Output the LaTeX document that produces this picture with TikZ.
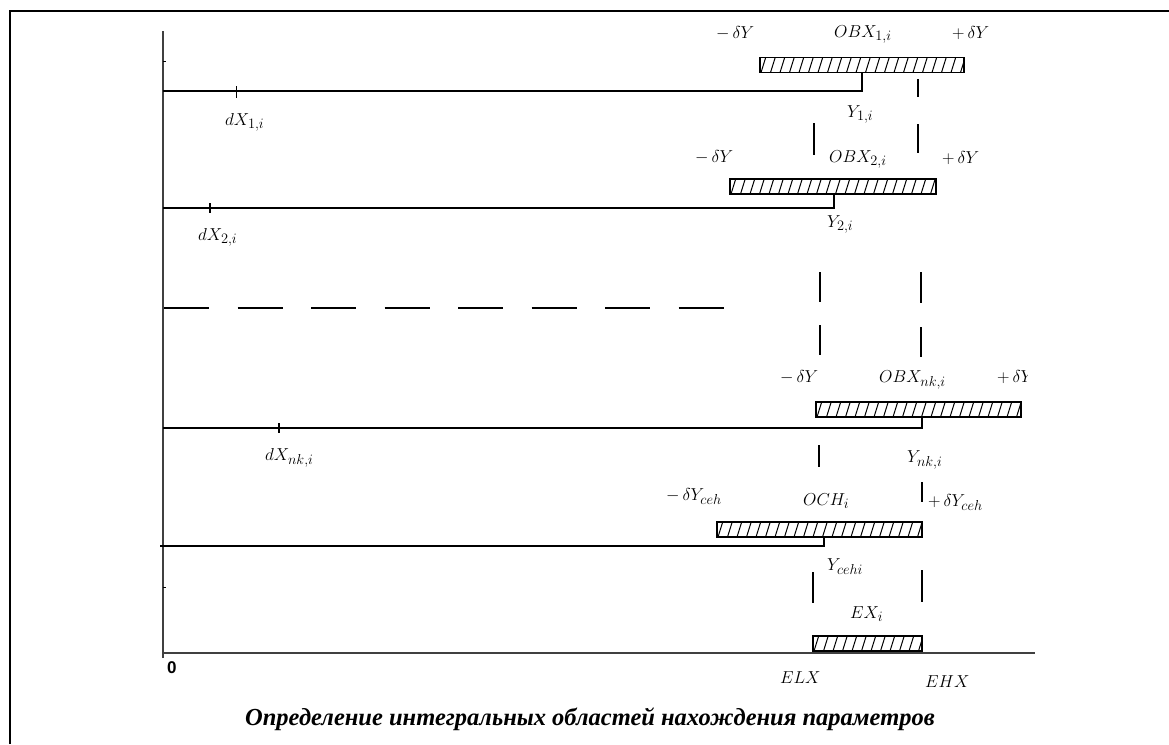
\documentclass[tikz,border=0pt]{standalone}
\usepackage{fontspec}
\newfontfamily\capfont{Liberation Serif}
\newfontfamily\zerofont{Liberation Sans}
\begin{document}
\begin{tikzpicture}[x=1pt,y=-1pt,
  lab/.style={inner sep=0pt, anchor=base west, font=\fontsize{19}{21}\selectfont},
  axisline/.style={draw=black!75, line width=2pt},
  hline/.style={draw=black, line width=1.4pt},
  vdash/.style={draw=black, line width=1.3pt},
  tickm/.style={draw=black, line width=1.2pt},
  hatchbar/.style={draw=black, line width=1.1pt, inner sep=0pt, minimum height=15pt,
    path picture={\foreach \k in {0,...,22}{\draw[line width=1pt] ([xshift=\k*9.5pt+1pt]path picture bounding box.south west) -- ++(5pt,16pt);}}}
]
\useasboundingbox (0,0) rectangle (1169,744);
% frame
\draw[line width=2.5pt] (10,744) -- (10,11) -- (1169,11);
% axes
\coordinate (ax0) at (163,658);
\coordinate (axT) at (163,31);
\coordinate (axR) at (1035,653);
\draw[axisline] (ax0) -- (axT);
\draw[axisline] (163,653) -- (axR);
\draw[line width=1pt] (163,61) -- (166,61);
\draw[line width=1pt] (163,587) -- (166,587);
\node[inner sep=0pt, anchor=base west, font=\zerofont\bfseries\fontsize{17}{18}\selectfont] (zero) at (167,673) {0};

% bars
\node[hatchbar, minimum width=204pt] (b1) at (862,65) {};
\node[hatchbar, minimum width=206pt] (b2) at (833,186.5) {};
\node[hatchbar, minimum width=205pt] (bnk) at (918.5,409.5) {};
\node[hatchbar, minimum width=205pt] (bceh) at (819.5,529.5) {};
\node[hatchbar, minimum width=109pt] (bex) at (867.5,643.5) {};

% row lines
\coordinate (l1s) at (163,91);   \coordinate (l1e) at (862,91);
\coordinate (l2s) at (163,208);  \coordinate (l2e) at (834,208);
\coordinate (lns) at (163,428);  \coordinate (lne) at (922,428);
\coordinate (lcs) at (160,546);  \coordinate (lce) at (824,546);
\draw[hline] (l1s) -- (l1e) -- (l1e |- b1.south);
\draw[hline] (l2s) -- (l2e) -- (l2e |- b2.south);
\draw[hline] (lns) -- (lne) -- (lne |- bnk.south);
\draw[hline] (lcs) -- (lce) -- (lce |- bceh.south);
% dashed middle line
\coordinate (lds) at (164,308); \coordinate (lde) at (728,308);
\draw[hline, dash pattern=on 45pt off 28.5pt] (lds) -- (lde);

% ticks on lines
\draw[tickm] (236.5,86) -- (236.5,98);
\draw[tickm] (210,203) -- (210,213);
\draw[tickm] (279,423) -- (279,433);

% vertical dashed segments (ELX / EHX)
\draw[vdash] (814,123) -- (814,155);
\draw[vdash] (820,272) -- (820,302);
\draw[vdash] (820,325) -- (820,355);
\draw[vdash] (819,445) -- (819,467);
\draw[vdash] (813,572) -- (813,603);
\draw[vdash] (918,79) -- (918,97);
\draw[vdash] (918,124) -- (918,153);
\draw[vdash] (921,272) -- (921,303);
\draw[vdash] (921,327) -- (921,357);
\draw[vdash] (922,482) -- (922,502);
\draw[vdash] (922,570) -- (922,602);

% labels row 1
\node[lab] (m1) at (716,38) {$-\,\delta Y$};
\node[lab] (o1) at (834,37) {$OBX_{1,i}$};
\node[lab] (p1) at (952,38) {$+\,\delta Y$};
\node[lab] (y1) at (847,117) {$Y_{1,i}$};
\node[lab] (d1) at (225,125) {$dX_{1,i}$};
% row 2
\node[lab] (m2) at (695,162) {$-\,\delta Y$};
\node[lab] (o2) at (829,162) {$OBX_{2,i}$};
\node[lab] (p2) at (942,163) {$+\,\delta Y$};
\node[lab] (y2) at (827,227) {$Y_{2,i}$};
\node[lab] (d2) at (198,240) {$dX_{2,i}$};
% row nk
\node[lab] (mn) at (780,382) {$-\,\delta Y$};
\node[lab] (on) at (879,382) {$OBX_{nk,i}$};
\begin{scope}
\clip (990,355) rectangle (1027,400);
\node[lab] (pn) at (997,382) {$+\,\delta Y$};
\end{scope}
\node[lab] (yn) at (907,462) {$Y_{nk,i}$};
\node[lab] (dn) at (265,460) {$dX_{nk,i}$};
% row ceh
\node[lab] (mc) at (666,500) {$-\,\delta Y_{ceh}$};
\node[lab] (oc) at (803,505) {$OCH_{i}$};
\node[lab] (pc) at (928,506) {$+\,\delta Y_{ceh}$};
\node[lab] (yc) at (827,570) {$Y_{cehi}$};
% EX
\node[lab] (ex) at (850,618) {$EX_{i}$};
\node[lab] (elx) at (780,683) {$ELX$};
\node[lab] (ehx) at (925,687) {$EHX$};

% caption
\node[inner sep=0pt, anchor=base, font=\capfont\bfseries\itshape\fontsize{24.5}{28}\selectfont] (cap) at (590,725) {Определение интегральных областей нахождения параметров};
\end{tikzpicture}
\end{document}
